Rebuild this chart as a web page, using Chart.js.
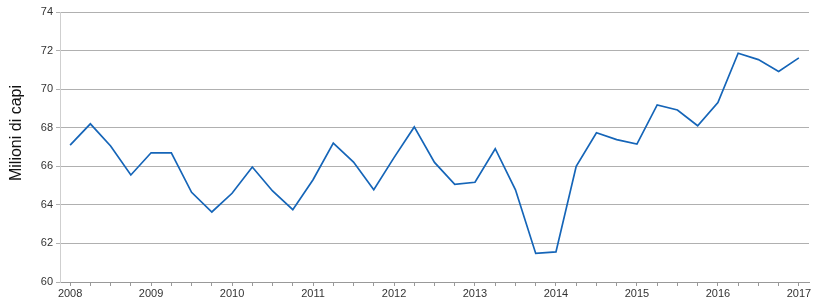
<!DOCTYPE html>
<html>
<head>
<meta charset="utf-8">
<script src="https://cdn.jsdelivr.net/npm/chart.js@4"></script>
<style>
  html, body { margin: 0; padding: 0; background: #fff; }
  #wrap { width: 820px; height: 305px; }
</style>
</head>
<body>
<div id="wrap"><canvas id="chart"></canvas></div>
<script>
// trimestri 2008 Q1 .. 2017 Q1
var years = ['2008', '2009', '2010', '2011', '2012', '2013', '2014', '2015', '2016', '2017'];
var quarters = [];
years.forEach(function(y) {
  for (var q = 1; q <= 4; q++) {
    if (y === '2017' && q > 1) break;
    quarters.push(y + ' T' + q);
  }
});

// milioni di capi
var capi = [
  67.1, 68.2, 67.05, 65.55,
  66.7, 66.7, 64.65, 63.63,
  64.6, 65.96, 64.72, 63.75,
  65.3, 67.2, 66.22, 64.78,
  66.45, 68.04, 66.2, 65.06,
  65.17, 66.91, 64.78, 61.48,
  61.56, 66.0, 67.74, 67.38,
  67.15, 69.18, 68.92, 68.1,
  69.3, 71.86, 71.53, 70.92,
  71.62
];

var yTicks = [60, 62, 64, 66, 68, 70, 72, 74];

var tickFont = { family: 'Liberation Sans, Arial, sans-serif', size: 11 };

// titolo asse y disegnato a mano per posizionarlo come nell'originale
var yTitlePlugin = {
  id: 'yTitle',
  afterDraw: function(chart) {
    var c = chart.ctx;
    c.save();
    c.translate(17, 133);
    c.rotate(-Math.PI / 2);
    c.font = '16px "Liberation Sans", Arial, sans-serif';
    c.fillStyle = '#111';
    c.textAlign = 'center';
    c.textBaseline = 'middle';
    c.fillText('Milioni di capi', 0, 0);
    c.restore();
  }
};

var ctx = document.getElementById('chart').getContext('2d');
new Chart(ctx, {
  type: 'line',
  data: {
    labels: quarters,
    datasets: [{
      data: capi,
      borderColor: '#1565b8',
      borderWidth: 1.7,
      pointRadius: 0,
      tension: 0,
      fill: false
    }]
  },
  options: {
    responsive: true,
    maintainAspectRatio: false,
    animation: false,
    layout: { padding: { top: 12, right: 11, left: 0, bottom: 0 } },
    plugins: {
      legend: { display: false },
      tooltip: { enabled: false }
    },
    scales: {
      x: {
        type: 'category',
        offset: true,
        grid: {
          offset: false,
          drawOnChartArea: false,
          drawTicks: true,
          tickLength: 4,
          color: '#999'
        },
        border: { color: '#999' },
        ticks: {
          autoSkip: false,
          maxRotation: 0,
          padding: 1,
          color: '#333',
          font: tickFont,
          callback: function(val, i) {
            var l = quarters[i];
            return l.slice(-2) === 'T1' ? l.slice(0, 4) : '';
          }
        },
        afterFit: function(scale) { scale.height = 23; }
      },
      y: {
        min: 60,
        max: 74,
        afterBuildTicks: function(scale) {
          scale.ticks = yTicks.map(function(v) { return { value: v }; });
        },
        grid: {
          color: '#b0b0b0',
          tickLength: 4,
          lineWidth: 1
        },
        border: { color: '#cfcfcf' },
        ticks: {
          color: '#333',
          font: tickFont,
          padding: 3
        },
        afterFit: function(scale) { scale.width = 60; }
      }
    }
  },
  plugins: [yTitlePlugin]
});
</script>
</body>
</html>
